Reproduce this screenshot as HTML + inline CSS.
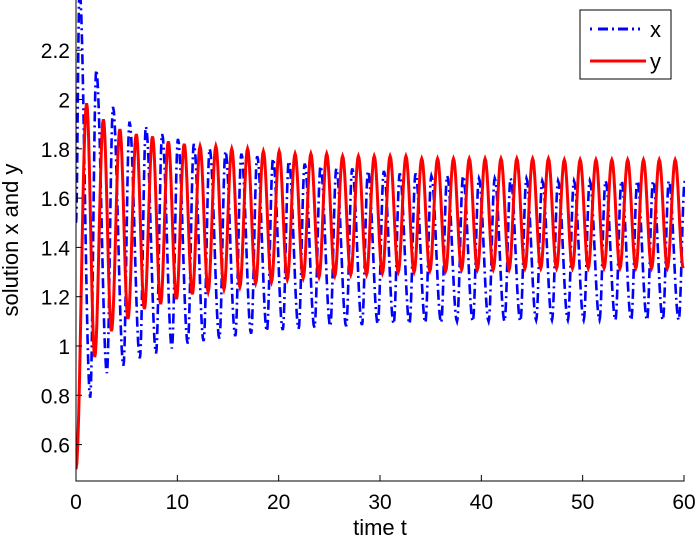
<!DOCTYPE html>
<html><head><meta charset="utf-8"><style>
body{margin:0;background:#fff}
svg{display:block;font-family:"Liberation Sans",sans-serif}
</style></head><body>
<svg id="c" width="699" height="540"></svg>
<script>
const cycleTimes=[1.05,2.70,4.33,5.95,7.55,9.11,10.68,12.24,13.80,15.37,16.93,18.49,20.05,21.62,23.18,24.74,26.31,27.87,29.43,31.00,32.56,34.12,35.68,37.25,38.81,40.37,41.94,43.50,45.06,46.62,48.19,49.75,51.31,52.88,54.44,56.00,57.56,59.13];
const redPeaks=[1.985,1.92,1.88,1.86,1.85,1.83,1.82,1.81,1.81,1.80,1.80,1.79,1.79,1.78,1.78,1.78,1.77,1.77,1.77,1.77,1.77,1.76,1.76,1.76,1.76,1.76,1.76,1.76,1.76,1.76,1.755,1.755,1.755,1.755,1.755,1.755,1.755,1.755];
const redTroughs=[0.955,1.06,1.11,1.15,1.17,1.19,1.21,1.22,1.23,1.24,1.255,1.26,1.27,1.275,1.28,1.285,1.29,1.29,1.295,1.30,1.30,1.305,1.305,1.31,1.31,1.31,1.31,1.315,1.315,1.315,1.315,1.316,1.316,1.316,1.316,1.316,1.316,1.316];
const bluePeaks=[2.12,1.97,1.91,1.89,1.86,1.84,1.82,1.80,1.79,1.78,1.77,1.76,1.75,1.74,1.73,1.72,1.72,1.71,1.71,1.70,1.70,1.69,1.69,1.69,1.68,1.68,1.68,1.68,1.67,1.67,1.67,1.67,1.67,1.67,1.67,1.67,1.67,1.67];
const blueTroughs=[0.79,0.89,0.92,0.95,0.97,0.99,1.01,1.02,1.03,1.04,1.05,1.06,1.065,1.07,1.075,1.08,1.08,1.085,1.09,1.09,1.09,1.095,1.095,1.10,1.10,1.10,1.10,1.10,1.105,1.105,1.105,1.105,1.105,1.105,1.105,1.105,1.105,1.105];
const redStart=0.5, blueStart=1.5, blueFirstPeak=[0.35,2.45];
const xTicks=[0,10,20,30,40,50,60];
const yTicks=[0.6,0.8,1,1.2,1.4,1.6,1.8,2,2.2];

const X0=76,X1=684,YB=481;
const xs=t=>X0+(t/60)*(X1-X0);
const ys=v=>346-(v-1)*246.5;
const NS="http://www.w3.org/2000/svg";
const svg=document.getElementById('c');
function mk(tag,attrs,parent){const e=document.createElementNS(NS,tag);for(const k in attrs)e.setAttribute(k,attrs[k]);(parent||svg).appendChild(e);return e;}
const defs=mk('defs',{});const cp=mk('clipPath',{id:'pc'},defs);mk('rect',{x:X0,y:0,width:X1-X0+1,height:YB},cp);

function pathFromExtrema(ext){
  let d='M'+xs(ext[0][0]).toFixed(2)+' '+ys(ext[0][1]).toFixed(2);
  for(let i=1;i<ext.length;i++){
    const [t0,v0]=ext[i-1],[t1,v1]=ext[i];
    const n=12;
    for(let j=1;j<=n;j++){const f=j/n;const w=(1-Math.cos(Math.PI*f))/2;
      d+=' L'+xs(t0+(t1-t0)*f).toFixed(2)+' '+ys(v0+(v1-v0)*w).toFixed(2);}
  }
  return d;
}
const redExt=[[0,redStart]];
cycleTimes.forEach((t,i)=>{redExt.push([t,redPeaks[i]]);redExt.push([t+0.8,redTroughs[i]]);});
const blueExt=[[0,blueStart],blueFirstPeak];
cycleTimes.forEach((t,i)=>{blueExt.push([t+0.35,blueTroughs[i]]);blueExt.push([t+0.95,bluePeaks[i]]);});

const g=mk('g',{'clip-path':'url(#pc)'});


const bl=mk('path',{d:pathFromExtrema(blueExt),fill:'none',stroke:'#0000ff','stroke-width':2.6,'stroke-dasharray':'10 4 2 4'},g);


const rl=mk('path',{d:pathFromExtrema(redExt),fill:'none',stroke:'#ff0000','stroke-width':3},g);



const ax=mk('path',{d:`M${X0} 0 V${YB} H${X1+0.5}`,fill:'none',stroke:'#000','stroke-width':1});


xTicks.forEach(t=>{
  mk('line',{x1:xs(t),x2:xs(t),y1:YB,y2:YB-6,stroke:'#000'});
  const tx=mk('text',{x:xs(t),y:YB+28,'text-anchor':'middle','font-size':21});tx.textContent=t;
  
  
});
yTicks.forEach(v=>{
  mk('line',{x1:X0,x2:X0+6,y1:ys(v),y2:ys(v),stroke:'#000'});
  const tx=mk('text',{x:X0-6,y:ys(v)+8,'text-anchor':'end','font-size':21});tx.textContent=v;
  
  
});
</script>
<div style="position:absolute;left:0;top:0;width:699px;height:540px;pointer-events:none">
<svg width="699" height="540" style="position:absolute;left:0;top:0">
<text x="380" y="535" text-anchor="middle" font-size="22" font-family="Liberation Sans, sans-serif">time t</text>
<text transform="translate(18,240) rotate(-90)" text-anchor="middle" font-size="22" font-family="Liberation Sans, sans-serif">solution x and y</text>
<g>
<rect x="580" y="10" width="91" height="69" fill="#fff" stroke="#000" stroke-width="1"/>
<line x1="590" y1="29" x2="646" y2="29" stroke="#0000ff" stroke-width="3" stroke-dasharray="2 6 10 4 2 4 10 4 2 4"/>
<text x="650" y="37" font-size="22" font-family="Liberation Sans, sans-serif">x</text>
<line x1="590" y1="61" x2="646" y2="61" stroke="#ff0000" stroke-width="3"/>
<text x="650" y="69" font-size="22" font-family="Liberation Sans, sans-serif">y</text>
</g>
</svg></div>
</body></html>
